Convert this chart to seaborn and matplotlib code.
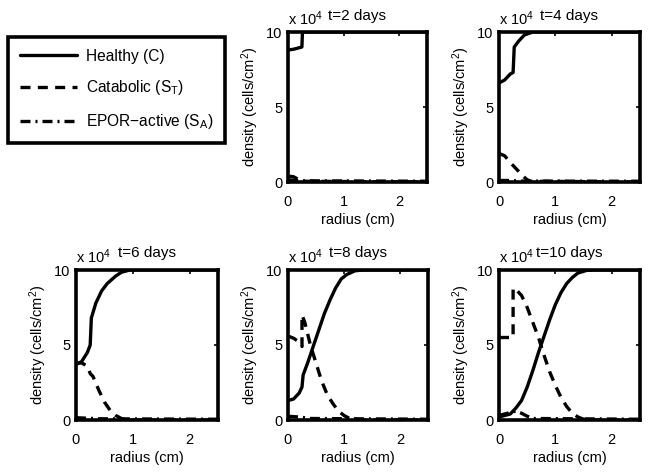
import numpy as np
import pandas as pd
import matplotlib
matplotlib.use("Agg")
import matplotlib.pyplot as plt
import seaborn as sns

sns.set_style("white")
plt.rcParams['font.family'] = ['Liberation Sans', 'DejaVu Sans']
plt.rcParams['mathtext.fontset'] = 'custom'
plt.rcParams['mathtext.rm'] = 'Liberation Sans'
plt.rcParams['mathtext.it'] = 'Liberation Sans'
for key in ['text.color', 'axes.labelcolor', 'xtick.color', 'ytick.color']:
    plt.rcParams[key] = 'k'

# density values in units of 1e4 cells/cm^2, radius in cm
days = [2, 4, 6, 8, 10]

healthy_r = {
    2: [0, 0.1, 0.2, 0.25, 0.26, 0.3, 2.5],
    4: [0, 0.1, 0.2, 0.25, 0.27, 0.35, 0.45, 0.6, 2.5],
    6: [0, 0.1, 0.2, 0.25, 0.27, 0.35, 0.45, 0.55, 0.7, 0.8, 0.95, 2.5],
    8: [0, 0.1, 0.2, 0.25, 0.27, 0.35, 0.45, 0.55, 0.65, 0.75, 0.85, 0.95, 1.05, 1.2, 1.35, 2.5],
    10: [0, 0.1, 0.2, 0.3, 0.4, 0.5, 0.6, 0.7, 0.8, 0.9, 1.0, 1.1, 1.2, 1.3, 1.4, 1.55, 1.7, 2.5],
}
healthy_v = {
    2: [8.8, 8.85, 8.95, 9.0, 10.0, 10.0, 10.0],
    4: [6.6, 6.8, 7.2, 7.3, 9.0, 9.4, 9.8, 10.0, 10.0],
    6: [3.7, 3.9, 4.5, 5.0, 6.8, 7.8, 8.6, 9.1, 9.6, 9.85, 10.0, 10.0],
    8: [1.3, 1.4, 1.8, 2.2, 3.0, 3.8, 4.9, 6.0, 7.1, 8.0, 8.8, 9.4, 9.7, 9.95, 10.0, 10.0],
    10: [0.2, 0.3, 0.4, 0.8, 1.3, 2.2, 3.3, 4.5, 5.6, 6.7, 7.7, 8.5, 9.1, 9.5, 9.8, 9.97, 10.0, 10.0],
}

catabolic_r = {
    2: [0, 0.1, 0.15, 0.2, 0.25, 2.5],
    4: [0, 0.1, 0.2, 0.3, 0.4, 0.48, 0.55, 2.5],
    6: [0, 0.1, 0.2, 0.25, 0.3, 0.4, 0.5, 0.6, 0.7, 0.8, 0.9, 2.5],
    8: [0, 0.1, 0.2, 0.25, 0.25, 0.3, 0.4, 0.5, 0.6, 0.7, 0.8, 0.9, 1.0, 1.1, 1.2, 2.5],
    10: [0, 0.1, 0.2, 0.25, 0.25, 0.3, 0.4, 0.5, 0.6, 0.7, 0.8, 0.9, 1.0, 1.1, 1.2, 1.3, 1.4, 1.5, 1.6, 2.5],
}
catabolic_v = {
    2: [0.4, 0.35, 0.25, 0.1, 0.05, 0.0],
    4: [1.9, 1.75, 1.3, 0.9, 0.5, 0.2, 0.05, 0.0],
    6: [3.8, 3.8, 3.6, 3.1, 2.9, 2.0, 1.2, 0.65, 0.3, 0.1, 0.0, 0.0],
    8: [5.6, 5.45, 5.2, 4.9, 7.0, 6.5, 5.0, 3.8, 2.6, 1.7, 1.1, 0.6, 0.3, 0.1, 0.0, 0.0],
    10: [5.5, 5.5, 5.5, 5.5, 8.8, 8.7, 8.3, 7.5, 6.5, 5.5, 4.3, 3.2, 2.3, 1.5, 0.9, 0.45, 0.2, 0.05, 0.0, 0.0],
}

epor_r = {
    2: [0, 0.1, 0.2, 2.5],
    4: [0, 0.2, 0.4, 2.5],
    6: [0, 0.2, 0.4, 2.5],
    8: [0, 0.2, 0.4, 2.5],
    10: [0, 0.1, 0.2, 0.3, 0.4, 0.5, 0.6, 2.5],
}
epor_v = {
    2: [0.15, 0.12, 0.08, 0.05],
    4: [0.1, 0.1, 0.06, 0.05],
    6: [0.15, 0.12, 0.08, 0.05],
    8: [0.25, 0.2, 0.1, 0.05],
    10: [0.3, 0.4, 0.5, 0.6, 0.45, 0.25, 0.1, 0.05],
}

W, H = 649, 473
fig = plt.figure(figsize=(W / 100, H / 100), dpi=100)

# panel boxes in pixels: left, top, right, bottom
boxes = {
    2: (288, 32, 427, 182),
    4: (499, 32, 640, 182),
    6: (76, 270, 218, 420),
    8: (288, 270, 428, 420),
    10: (499, 270, 640, 420),
}

fs = 10.5
lw = 2.4
handles = None
for d in days:
    l, t, r, b = boxes[d]
    ax = fig.add_axes([l / W, 1 - b / H, (r - l) / W, (b - t) / H])
    sns.lineplot(x=healthy_r[d], y=healthy_v[d], ax=ax, color='k', lw=lw,
                 estimator=None, sort=False, label='Healthy (C)')
    sns.lineplot(x=catabolic_r[d], y=catabolic_v[d], ax=ax, color='k', lw=lw,
                 linestyle=(0, (3, 2.2)), estimator=None, sort=False,
                 label=r'Catabolic (S$_\mathregular{T}$)')
    sns.lineplot(x=epor_r[d], y=epor_v[d], ax=ax, color='k', lw=lw,
                 linestyle=(0, (3, 1.5, 0.6, 1.5)), estimator=None, sort=False,
                 label=r'EPOR$-$active (S$_\mathregular{A}$)')
    handles, labels = ax.get_legend_handles_labels()
    ax.get_legend().remove()
    ax.set_xlim(0, 2.5)
    ax.set_ylim(0, 10)
    ax.set_xticks([0, 1, 2])
    ax.set_yticks([0, 5, 10])
    ax.tick_params(direction='in', length=3, width=1.2, labelsize=fs,
                   top=True, right=True, colors='k')
    ax.tick_params(axis='x', pad=9)
    ax.tick_params(axis='y', pad=4)
    for s in ax.spines.values():
        s.set_linewidth(2.6)
        s.set_color('k')
    ax.set_xlabel('radius (cm)', fontsize=fs, labelpad=3)
    ax.set_ylabel(r'density (cells/cm$^2$)', fontsize=fs, labelpad=4)
    ax.set_title(f't={d} days', fontsize=fs + 0.5, pad=9)
    ax.text(0, 1.03, r'x 10$^4$', transform=ax.transAxes, fontsize=fs,
            ha='left', va='bottom')

leg = fig.legend(handles, labels, loc='upper left',
                 bbox_to_anchor=(8 / W, 1 - 37 / H), fontsize=11.2,
                 frameon=True, fancybox=False, edgecolor='k', framealpha=1,
                 handlelength=3.7, handletextpad=0.55, labelspacing=0.95,
                 borderpad=0.75, borderaxespad=0)
leg.get_frame().set_linewidth(2.6)
leg.get_frame().set_facecolor('white')

fig.savefig('out.png', dpi=100)
